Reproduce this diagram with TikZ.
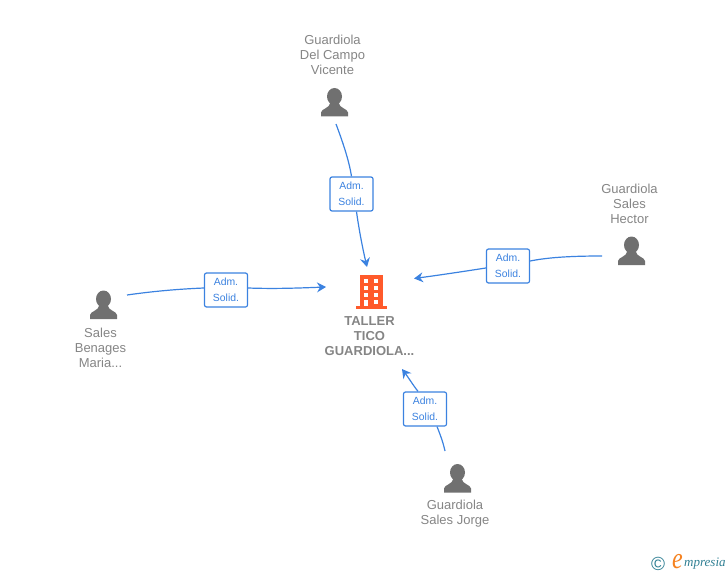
\documentclass[tikz,border=0pt]{standalone}
\usepackage{fontspec}
\setmainfont{Liberation Sans}
\newfontfamily\logofont{Liberation Serif}
\usetikzlibrary{arrows.meta}
\definecolor{linkblue}{HTML}{3B82E0}
\definecolor{persongray}{HTML}{707070}
\definecolor{textgray}{HTML}{858585}
\definecolor{firmorange}{HTML}{FF5A2B}
\definecolor{logoteal}{HTML}{2F7F93}
\definecolor{logoorange}{HTML}{F58220}
\tikzset{
    person/.pic={
        \fill[persongray] (0,-20) ellipse (7.5 and 8.5);
        \fill[persongray] (-13.5,0) -- (-13.5,-4) .. controls (-13,-8) and (-5,-8) .. (-4,-14)
            -- (4,-14) .. controls (5,-8) and (13,-8) .. (13.5,-4) -- (13.5,0) -- cycle;
    },
    personlabel/.style={text=textgray, font=\fontsize{13}{15}\selectfont, align=center, inner sep=0pt},
    firmlabel/.style={text=textgray, font=\fontsize{13}{15}\selectfont\bfseries, align=center, inner sep=0pt},
    rolebox/.style={draw=linkblue, fill=white, rounded corners=2pt, line width=1.2pt, minimum width=43pt, minimum height=34pt,
        inner sep=0pt, text=linkblue, font=\fontsize{10.4}{15.5}\selectfont, align=center},
    link/.style={draw=linkblue, line width=1.2pt},
    linkarrow/.style={link, -{Stealth[length=9pt, width=10pt, inset=3pt]}}
}
\begin{document}
\begin{tikzpicture}[x=1pt, y=-1pt]
    \useasboundingbox (0, 0) rectangle (728, 575);

    % Firm
    \fill[firmorange] (360, 275) rectangle (383, 306);
    \fill[firmorange] (356, 306) rectangle (387, 309);
    \foreach \wy in {279, 286, 293}{
        \fill[white] (364, \wy) rectangle (368, \wy+4);
        \fill[white] (374, \wy) rectangle (378, \wy+4);
    }
    \fill[white] (364, 299.5) rectangle (368, 306);
    \fill[white] (374, 299.5) rectangle (378, 303.5);
    \node[firmlabel] (firm) at (369.5, 336) {TALLER\\TICO\\GUARDIOLA...};

    % People
    \pic at (334.5, 116.5) {person};
    \node[personlabel] (vicente) at (332.5, 55) {Guardiola\\Del Campo\\Vicente};
    \pic at (631.5, 265) {person};
    \node[personlabel] (hector) at (629.5, 204) {Guardiola\\Sales\\Hector};
    \pic at (103.5, 319) {person};
    \node[personlabel] (maria) at (100.5, 348) {Sales\\Benages\\Maria...};
    \pic at (457.5, 492.5) {person};
    \node[personlabel] (jorge) at (455, 513.5) {Guardiola\\Sales Jorge};

    % Role boxes
    \node[rolebox] (admTop) at (351.5, 194) {Adm.\\Solid.};
    \node[rolebox] (admRight) at (508, 266) {Adm.\\Solid.};
    \node[rolebox] (admLeft) at (226, 290) {Adm.\\Solid.};
    \node[rolebox] (admBottom) at (425, 409) {Adm.\\Solid.};

    % Free ends
    \coordinate (vicenteEnd) at (336, 124);
    \coordinate (hectorEnd) at (602, 256);
    \coordinate (mariaEnd) at (127, 295);
    \coordinate (jorgeEnd) at (445, 451);
    \coordinate (firmTop) at (367, 267);
    \coordinate (firmRight) at (414, 278.5);
    \coordinate (firmLeft) at (326, 287);
    \coordinate (firmBottom) at (402, 369);

    % Links
    \draw[link] (vicenteEnd) .. controls (342, 140) and (349, 160) .. (admTop.north);
    \draw[linkarrow] ([xshift=5pt]admTop.south) .. controls (359, 230) and (363, 250) .. (firmTop);
    \draw[link] (hectorEnd) .. controls (575, 256) and (550, 257) .. ([yshift=5pt]admRight.east);
    \draw[linkarrow] ([yshift=-2pt]admRight.west) .. controls (460, 272) and (440, 275) .. (firmRight);
    \draw[link] (mariaEnd) .. controls (155, 291) and (180, 289) .. ([yshift=2pt]admLeft.west);
    \draw[linkarrow] ([yshift=2pt]admLeft.east) .. controls (275, 289) and (300, 288) .. (firmLeft);
    \draw[link] (jorgeEnd) .. controls (443, 442) and (440, 434) .. ([xshift=12pt]admBottom.south);
    \draw[linkarrow] ([xshift=-7pt]admBottom.north) .. controls (413, 385) and (408, 377) .. (firmBottom);

    % Logo
    \node[text=logoteal, font=\fontsize{19}{19}\selectfont, inner sep=0pt] (copyright) at (658, 563.5) {©};
    \node[text=logoorange, font=\fontsize{30}{30}\logofont\itshape, inner sep=0pt, xscale=0.8] (logoE) at (677.5, 561.5) {e};
    \node[text=logoteal, font=\fontsize{13}{13}\logofont\itshape, inner sep=0pt, anchor=west] (logoName) at (684, 563.5) {mpresia};
\end{tikzpicture}
\end{document}
